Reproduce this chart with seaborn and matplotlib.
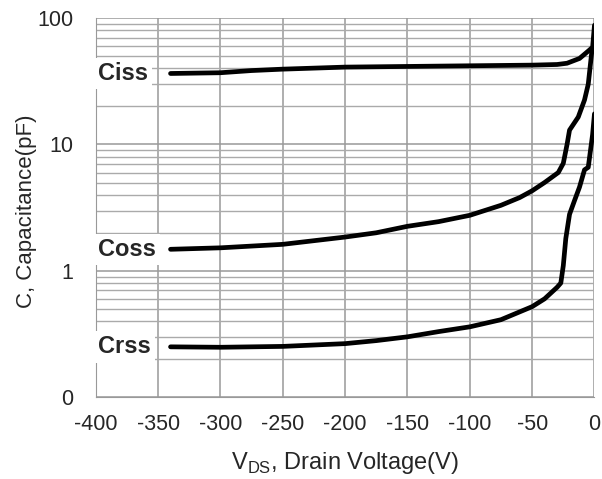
import numpy as np
import pandas as pd
import matplotlib
matplotlib.use("Agg")
import matplotlib.pyplot as plt
import matplotlib.ticker as mticker
import seaborn as sns

# values
ciss_v = [-340, -300, -275, -250, -200, -150, -100, -50, -30, -22, -12, -4, -1.5, 0]
ciss_c = [36.5, 37.0, 38.5, 39.5, 41.0, 41.5, 42.0, 42.5, 43.0, 44.0, 48.0, 56.0, 59.0, 88.0]

coss_v = [-340, -300, -250, -200, -175, -150, -125, -100, -75, -60, -50, -40, -29,
          -25, -22, -20, -13, -8, -5, -2, 0]
coss_c = [1.48, 1.52, 1.62, 1.85, 2.0, 2.25, 2.45, 2.75, 3.3, 3.8, 4.3, 5.0, 6.0,
          7.1, 10.0, 13.0, 16.5, 22.5, 30.0, 56.0, 62.0]

crss_v = [-340, -300, -250, -200, -175, -150, -125, -100, -75, -50, -40, -30,
          -27, -25, -23, -20, -16, -12, -8, -5, -1.5, 0]
crss_c = [0.25, 0.248, 0.252, 0.265, 0.28, 0.30, 0.33, 0.36, 0.41, 0.52, 0.60, 0.74,
          0.80, 1.1, 1.8, 2.8, 3.6, 4.6, 6.3, 6.6, 12.0, 17.5]

names = ["Ciss", "Coss", "Crss"]
x_ticks = [-400, -350, -300, -250, -200, -150, -100, -50, 0]
y_ticks = [0.1, 1, 10, 100]
y_tick_labels = ["0", "1", "10", "100"]

df = pd.concat([
    pd.DataFrame({"V": ciss_v, "C": ciss_c, "name": "Ciss"}),
    pd.DataFrame({"V": coss_v, "C": coss_c, "name": "Coss"}),
    pd.DataFrame({"V": crss_v, "C": crss_c, "name": "Crss"}),
])

sns.set_style("white")
plt.rcParams['font.family'] = ['Liberation Sans', 'DejaVu Sans']

fig = plt.figure(figsize=(6.02, 4.79), dpi=100)
ax = fig.add_axes([0.159, 0.171, 0.8285, 0.791])

for n in names:
    sub = df[df["name"] == n]
    sns.lineplot(data=sub, x="V", y="C", ax=ax, color="black", lw=3.4,
                 sort=False, estimator=None, legend=False)

ax.set_yscale("log")
ax.set_xlim(-400, 0)
ax.set_ylim(0.1, 100)
ax.set_xticks(x_ticks)
ax.set_xticklabels([str(t) for t in x_ticks], fontsize=15.5)
ax.set_yticks(y_ticks)
ax.set_yticklabels(y_tick_labels, fontsize=15.5)
ax.yaxis.set_minor_locator(mticker.LogLocator(base=10, subs=np.arange(2, 10)))
ax.yaxis.set_minor_formatter(mticker.NullFormatter())
ax.tick_params(axis="both", which="both", length=0)
ax.tick_params(axis="y", pad=16)
ax.tick_params(axis="x", pad=12)

ax.grid(True, which="major", color="#999999", lw=1.1)
ax.grid(True, which="minor", axis="y", color="#aaaaaa", lw=1.0)
ax.set_axisbelow(True)
for s in ax.spines.values():
    s.set_visible(False)
ax.spines["left"].set_visible(True)
ax.spines["bottom"].set_visible(True)
ax.spines["left"].set_color("#999999")
ax.spines["bottom"].set_color("#999999")

ax.set_xlabel("V$_{\\mathregular{DS}}$, Drain Voltage(V)", fontsize=17, labelpad=11)
ax.set_ylabel("C, Capacitance(pF)", fontsize=16)
ax.yaxis.set_label_coords(-0.118, 0.49)

label_pos = {"Ciss": 36.5, "Coss": 1.48, "Crss": 0.25}
for n in names:
    ax.text(-398, label_pos[n], n, fontsize=17, fontweight="bold", va="center", ha="left",
            bbox=dict(facecolor="white", edgecolor="none", pad=3), zorder=5)

fig.savefig("out.png", dpi=100)
